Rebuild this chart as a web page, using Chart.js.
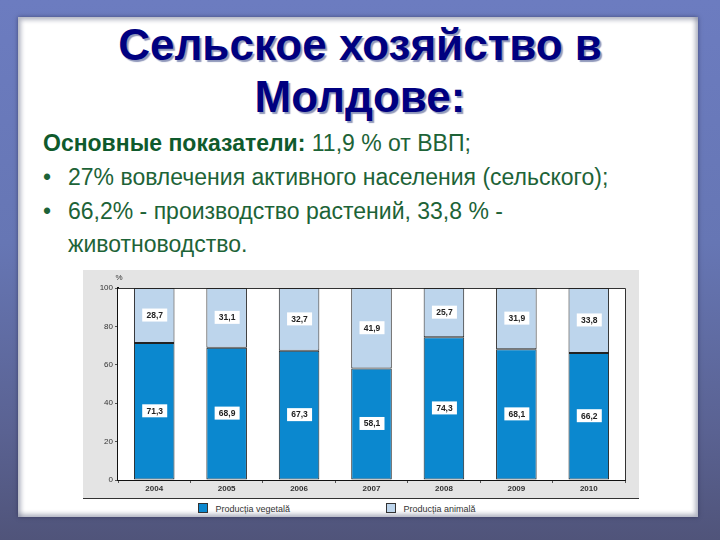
<!DOCTYPE html>
<html>
<head>
<meta charset="utf-8">
<script src="https://cdn.jsdelivr.net/npm/chart.js@4"></script>
<style>
  html, body { margin: 0; padding: 0; }
  body {
    width: 720px; height: 540px; position: relative; overflow: hidden;
    background: linear-gradient(180deg, #6c7cc0 0%, #6676b4 45%, #5a6292 80%, #50547a 100%);
    font-family: "Liberation Sans", Arial, sans-serif;
  }
  #panel {
    position: absolute; left: 18px; top: 17px; width: 680px; height: 500px;
    background: #fff;
    box-shadow: inset 3px 3px 4px rgba(120,125,150,0.55), inset -3px -3px 4px rgba(120,125,150,0.55), 0 0 4px rgba(40,40,70,0.6);
  }
  .title {
    position: absolute; left: 0; width: 720px; text-align: center;
    font-weight: bold; font-size: 44px; line-height: 50px; color: #000080;
    text-shadow: 2px 2px 1px #9098bb;
  }
  .body {
    position: absolute; font-size: 23px; line-height: 26px; color: #1d6337; white-space: nowrap;
  }
  .body b { color: #0f5a2c; }
  .bullet { position: absolute; left: 43px; }
  #chartBox {
    position: absolute; left: 83px; top: 270px; width: 556px; height: 228px;
    background: #e4e4e4; border-bottom: 1px solid #333;
  }
  #legend { position: absolute; top: 503px; font: 9px "Liberation Sans", Arial, sans-serif; color: #333; }
  #legend span.sw { display: inline-block; width: 8px; height: 8px; border: 1px solid #333; vertical-align: -1px; }
</style>
</head>
<body>
<div id="panel"></div>
<div class="title" style="top:20px">Сельское хозяйство в</div>
<div class="title" style="top:72px">Молдове:</div>
<div class="body" style="left:43px; top:130px"><b>Основные показатели:</b> 11,9 % от ВВП;</div>
<div class="body bullet" style="top:164px">•</div>
<div class="body" style="left:68px; top:164px">27% вовлечения активного населения (сельского);</div>
<div class="body bullet" style="top:198px">•</div>
<div class="body" style="left:68px; top:198px">66,2% - производство растений, 33,8 % -</div>
<div class="body" style="left:68px; top:231px">животноводство.</div>

<div id="chartBox"><canvas id="c" width="556" height="227"></canvas></div>
<div id="legend"></div>

<script>
const years = ['2004', '2005', '2006', '2007', '2008', '2009', '2010'];
const vegetala = [71.3, 68.9, 67.3, 58.1, 74.3, 68.1, 66.2];
const animala = [28.7, 31.1, 32.7, 41.9, 25.7, 31.9, 33.8];
const yTicks = [0, 20, 40, 60, 80, 100];
const seriesNames = ['Producția vegetală', 'Producția animală'];
const seriesColors = ['#0b88cf', '#bdd5ec'];

const plotFrame = {
  id: 'plotFrame',
  beforeDatasetsDraw(chart) {
    const { ctx, chartArea: a } = chart;
    ctx.save();
    ctx.fillStyle = '#ffffff';
    ctx.fillRect(a.left, a.top, a.right - a.left, a.bottom - a.top);
    ctx.strokeStyle = '#333';
    ctx.lineWidth = 1;
    ctx.beginPath();
    ctx.moveTo(a.left, a.top + 0.5);
    ctx.lineTo(a.right + 0.5, a.top + 0.5);
    ctx.lineTo(a.right + 0.5, a.bottom);
    ctx.stroke();
    ctx.fillStyle = '#333';
    ctx.font = '8px "Liberation Sans", Arial, sans-serif';
    ctx.textAlign = 'center';
    ctx.fillText('%', a.left + 1, a.top - 8);
    ctx.restore();
  }
};

const valueBoxes = {
  id: 'valueBoxes',
  afterDatasetsDraw(chart) {
    const { ctx } = chart;
    ctx.save();
    ctx.font = 'bold 8.5px "Liberation Sans", Arial, sans-serif';
    ctx.textAlign = 'center';
    ctx.textBaseline = 'middle';
    chart.data.datasets.forEach((ds, di) => {
      chart.getDatasetMeta(di).data.forEach((bar, i) => {
        const cy = (bar.y + bar.base) / 2;
        const txt = ds.data[i].toFixed(1).replace('.', ',');
        ctx.fillStyle = '#ffffff';
        ctx.fillRect(bar.x - 12, cy - 7, 25, 13);
        ctx.fillStyle = '#222';
        ctx.fillText(txt, bar.x + 0.5, cy);
      });
    });
    ctx.restore();
  }
};

new Chart(document.getElementById('c'), {
  type: 'bar',
  data: {
    labels: years,
    datasets: [
      { label: seriesNames[0], data: vegetala, backgroundColor: seriesColors[0] },
      { label: seriesNames[1], data: animala, backgroundColor: seriesColors[1] }
    ].map(d => Object.assign(d, {
      borderColor: '#222', borderWidth: 1, borderSkipped: false,
      barPercentage: 0.56, categoryPercentage: 1
    }))
  },
  options: {
    responsive: false,
    animation: false,
    layout: { padding: { top: 18, right: 14, left: 0, bottom: 0 } },
    plugins: { legend: { display: false }, tooltip: { enabled: false } },
    scales: {
      x: {
        stacked: true,
        afterFit: s => { s.height = 17; },
        grid: { drawOnChartArea: false, tickLength: 3, color: '#555' },
        border: { color: '#111', width: 2 },
        ticks: { color: '#333', font: { size: 8, weight: 'bold', family: '"Liberation Sans", Arial' }, padding: 1 }
      },
      y: {
        stacked: true, min: 0, max: 100,
        afterFit: s => { s.width = 35; },
        afterBuildTicks: s => { s.ticks = yTicks.map(v => ({ value: v })); },
        grid: { drawOnChartArea: false, tickLength: 3, color: '#555' },
        border: { color: '#111', width: 2 },
        ticks: { color: '#333', font: { size: 8, family: '"Liberation Sans", Arial' }, padding: 2 }
      }
    }
  },
  plugins: [plotFrame, valueBoxes]
});

const legend = document.getElementById('legend');
const legendX = [198, 386];
seriesNames.forEach((name, i) => {
  const item = document.createElement('div');
  item.style.position = 'absolute';
  item.style.left = legendX[i] + 'px';
  item.style.whiteSpace = 'nowrap';
  item.innerHTML = '<span class="sw" style="background:' + seriesColors[i] + '"></span>&nbsp;&nbsp;&nbsp;' + name;
  legend.appendChild(item);
});
</script>
</body>
</html>
